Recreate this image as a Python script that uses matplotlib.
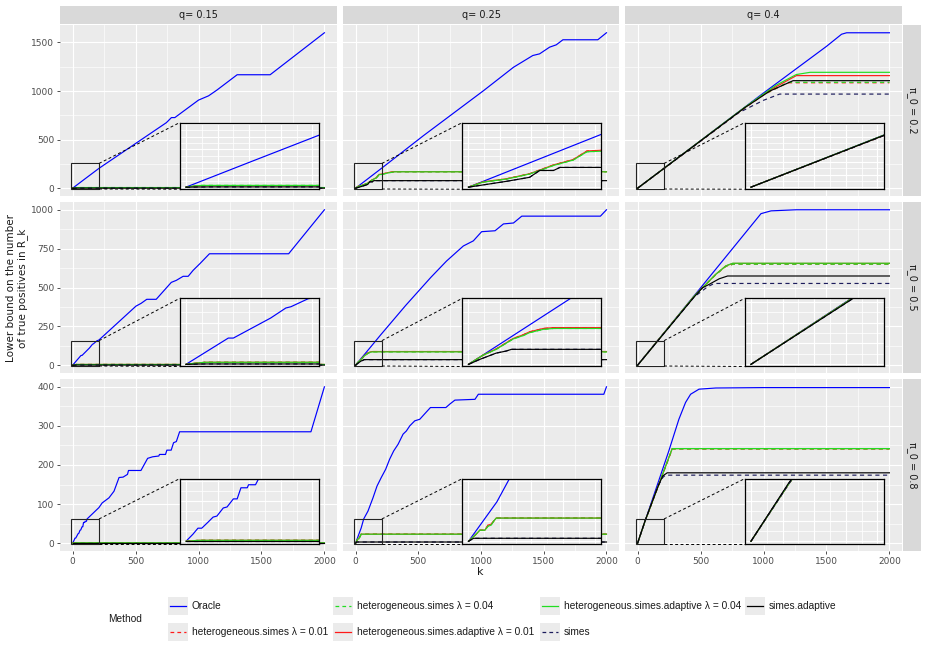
import matplotlib
matplotlib.use("Agg")
import matplotlib.pyplot as plt
from matplotlib.patches import Rectangle

W, H = 927, 649

# methods, in the legend / drawing order
methods = ["oracle", "hs01", "hs04", "hsa01", "hsa04", "simes", "simes_ad"]
method_labels = [
    "Oracle",
    "heterogeneous.simes λ = 0.01",
    "heterogeneous.simes λ = 0.04",
    "heterogeneous.simes.adaptive λ = 0.01",
    "heterogeneous.simes.adaptive λ = 0.04",
    "simes",
    "simes.adaptive",
]
method_colors = ["#0000FF", "#FF1A1A", "#22DD22", "#FF1A1A", "#22DD22", "#1C1C5C", "#000000"]
method_styles = ["-", "--", "--", "-", "-", "--", "-"]

q_labels = ["q= 0.15", "q= 0.25", "q= 0.4"]
pi_labels = ["π_0 = 0.2", "π_0 = 0.5", "π_0 = 0.8"]

# values: method -> (k, lower bound)
q015_pi02 = {
    "oracle": ([0, 100, 210, 500, 745, 785, 812, 1000, 1080, 1146, 1307, 1569, 2000],
               [0, 98, 205, 460, 675, 727, 727, 907, 951, 1010, 1168, 1168, 1600]),
    "hs01": ([0, 10, 25, 2000], [0, 3, 6, 6]),
    "hs04": ([0, 10, 25, 2000], [0, 4, 7, 7]),
    "hsa01": ([0, 10, 25, 2000], [0, 3, 6, 6]),
    "hsa04": ([0, 10, 25, 2000], [0, 4, 7, 7]),
    "simes": ([0, 40, 2000], [0, 1, 1]),
    "simes_ad": ([0, 40, 2000], [0, 1, 1]),
}
q025_pi02 = {
    "oracle": ([0, 210, 540, 1019, 1259, 1413, 1467, 1547, 1600, 1653, 1931, 2000],
               [0, 208, 540, 1003, 1245, 1366, 1383, 1452, 1476, 1528, 1528, 1600]),
    "hs01": ([0, 23, 60, 97, 135, 166, 188, 210, 260, 312, 2000],
             [0, 21, 33, 53, 88, 109, 143, 145, 160, 171, 171]),
    "hs04": ([0, 23, 60, 97, 135, 166, 188, 210, 260, 312, 2000],
             [0, 20, 32, 52, 86, 107, 140, 142, 158, 169, 169]),
    "hsa01": ([0, 23, 60, 97, 135, 166, 188, 210, 260, 312, 2000],
              [0, 21, 33, 53, 88, 109, 143, 146, 161, 171, 171]),
    "hsa04": ([0, 23, 60, 97, 135, 166, 188, 210, 260, 312, 2000],
              [0, 20, 32, 52, 86, 107, 140, 142, 158, 169, 169]),
    "simes": ([0, 60, 97, 113, 135, 145, 2000], [0, 23, 39, 66, 66, 78, 78]),
    "simes_ad": ([0, 60, 97, 113, 135, 145, 2000], [0, 23, 39, 66, 66, 78, 78]),
}
q04_pi02 = {
    "oracle": ([0, 1000, 1500, 1620, 1660, 2000], [0, 980, 1460, 1585, 1600, 1600]),
    "hs01": ([0, 850, 1000, 1190, 2000], [0, 825, 960, 1085, 1085]),
    "hs04": ([0, 850, 1000, 1195, 2000], [0, 828, 965, 1090, 1090]),
    "hsa01": ([0, 850, 1050, 1261, 2000], [0, 830, 1010, 1159, 1159]),
    "hsa04": ([0, 850, 1100, 1260, 1370, 2000], [0, 832, 1060, 1170, 1193, 1193]),
    "simes": ([0, 800, 1000, 1128, 2000], [0, 775, 905, 969, 969]),
    "simes_ad": ([0, 850, 1050, 1235, 2000], [0, 828, 1000, 1107, 1107]),
}
q015_pi05 = {
    "oracle": ([0, 67, 75, 134, 142, 158, 166, 193, 209, 503, 544, 589, 664, 784, 824,
                878, 918, 958, 1012, 1087, 1716, 2000],
               [0, 63, 63, 111, 119, 135, 138, 157, 162, 380, 398, 424, 424, 533, 546,
                572, 572, 611, 654, 717, 717, 1000]),
    "hs01": ([0, 10, 30, 2000], [0, 2, 5, 5]),
    "hs04": ([0, 10, 30, 2000], [0, 2, 5, 5]),
    "hsa01": ([0, 10, 30, 2000], [0, 2, 5, 5]),
    "hsa04": ([0, 10, 30, 2000], [0, 2, 5, 5]),
    "simes": ([0, 30, 2000], [0, 1, 1]),
    "simes_ad": ([0, 30, 2000], [0, 1, 1]),
}
q025_pi05 = {
    "oracle": ([0, 200, 400, 600, 725, 859, 939, 1005, 1112, 1179, 1259, 1325, 1952, 2000],
               [0, 195, 385, 565, 670, 767, 800, 859, 865, 909, 915, 959, 959, 1000]),
    "hs01": ([0, 23, 44, 71, 87, 97, 119, 135, 2000], [0, 22, 37, 62, 71, 78, 86, 88, 88]),
    "hs04": ([0, 23, 44, 71, 87, 97, 119, 135, 2000], [0, 22, 36, 61, 69, 76, 84, 86, 86]),
    "hsa01": ([0, 23, 44, 71, 87, 97, 119, 135, 2000], [0, 22, 37, 62, 71, 78, 86, 88, 88]),
    "hsa04": ([0, 23, 44, 71, 87, 97, 119, 135, 2000], [0, 22, 36, 61, 69, 76, 84, 86, 86]),
    "simes": ([0, 18, 44, 60, 68, 2000], [0, 12, 27, 32, 36, 36]),
    "simes_ad": ([0, 18, 44, 60, 68, 2000], [0, 12, 27, 32, 36, 36]),
}
q04_pi05 = {
    "oracle": ([0, 980, 1060, 1260, 2000], [0, 975, 993, 1000, 1000]),
    "hs01": ([0, 450, 621, 701, 760, 2000], [0, 445, 583, 636, 650, 650]),
    "hs04": ([0, 450, 621, 701, 760, 2000], [0, 445, 583, 636, 650, 650]),
    "hsa01": ([0, 450, 621, 701, 755, 2000], [0, 445, 585, 639, 655, 655]),
    "hsa04": ([0, 450, 621, 701, 755, 2000], [0, 445, 585, 639, 656, 656]),
    "simes": ([0, 450, 555, 608, 2000], [0, 440, 504, 526, 526]),
    "simes_ad": ([0, 450, 515, 568, 648, 715, 2000], [0, 440, 498, 520, 556, 574, 574]),
}
q015_pi08 = {
    "oracle": ([0, 11, 19, 25, 35, 43, 49, 59, 65, 75, 81, 87, 97, 99, 110, 115, 209, 235,
                289, 329, 369, 401, 436, 444, 543, 596, 636, 685, 690, 738, 749, 783, 802,
                824, 850, 1893, 2000],
               [0, 7, 13, 13, 19, 24, 25, 33, 34, 42, 42, 53, 53, 56, 56, 62, 91, 103,
                116, 133, 168, 169, 176, 186, 186, 217, 221, 223, 227, 227, 238, 238, 257,
                260, 285, 285, 400]),
    "hs01": ([0, 20, 2000], [0, 1, 1]),
    "hs04": ([0, 20, 2000], [0, 1, 1]),
    "hsa01": ([0, 20, 2000], [0, 1, 1]),
    "hsa04": ([0, 20, 2000], [0, 1, 1]),
    "simes": ([0, 2000], [0, 0]),
    "simes_ad": ([0, 2000], [0, 0]),
}
q025_pi08 = {
    "oracle": ([0, 45, 65, 99, 139, 171, 205, 240, 272, 304, 339, 379, 405, 432, 472, 512,
                560, 597, 720, 752, 792, 952, 979, 1979, 2000],
               [0, 39, 62, 82, 116, 146, 168, 189, 215, 236, 253, 279, 287, 300, 313, 317,
                334, 347, 347, 356, 366, 368, 381, 381, 400]),
    "hs01": ([0, 12, 18, 26, 31, 36, 40, 44, 2000], [0, 7, 11, 11, 16, 17, 20, 23, 23]),
    "hs04": ([0, 12, 18, 26, 31, 36, 40, 44, 2000], [0, 7, 11, 11, 15, 16, 20, 23, 23]),
    "hsa01": ([0, 12, 18, 26, 31, 36, 40, 44, 2000], [0, 7, 11, 11, 16, 17, 20, 23, 23]),
    "hsa04": ([0, 12, 18, 26, 31, 36, 40, 44, 2000], [0, 7, 11, 11, 15, 16, 20, 23, 23]),
    "simes": ([0, 8, 2000], [0, 3, 3]),
    "simes_ad": ([0, 8, 2000], [0, 3, 3]),
}
q04_pi08 = {
    "oracle": ([0, 248, 328, 381, 421, 488, 621, 995, 2000], [0, 236, 317, 360, 381, 394, 397, 398, 398]),
    "hs01": ([0, 60, 275, 2000], [0, 57, 241, 241]),
    "hs04": ([0, 60, 275, 2000], [0, 57, 241, 241]),
    "hsa01": ([0, 60, 275, 2000], [0, 57, 242, 242]),
    "hsa04": ([0, 60, 275, 2000], [0, 57, 242, 242]),
    "simes": ([0, 60, 160, 200, 221, 2000], [0, 57, 145, 168, 174, 174]),
    "simes_ad": ([0, 60, 168, 200, 235, 2000], [0, 58, 150, 172, 180, 180]),
}

panels = [
    [q015_pi02, q025_pi02, q04_pi02],
    [q015_pi05, q025_pi05, q04_pi05],
    [q015_pi08, q025_pi08, q04_pi08],
]

row_ymax = [1600, 1000, 400]
row_yticks = [[0, 500, 1000, 1500], [0, 250, 500, 750, 1000], [0, 100, 200, 300, 400]]
row_yminor = [[250, 750, 1250], [125, 375, 625, 875], [50, 150, 250, 350]]
x_ticks = [0, 500, 1000, 1500, 2000]
x_minor = [250, 750, 1250, 1750]

# magnified region and inset placement per row (data coords)
zoom_x = (-10, 210)
box_y = [(-8, 255), (-5, 158), (-3, 62)]
inset_x = (850, 1955)
inset_y = [(-10, 675), (-8, 430), (-3, 165)]
inset_yticks = [[0, 50, 100, 150, 200, 250], [0, 50, 100, 150], [0, 20, 40, 60]]
inset_yminor = [[25, 75, 125, 175, 225], [25, 75, 125], [10, 30, 50]]

col_px = [(60, 337), (343, 619), (625, 902)]
row_px = [(25, 196), (202, 373), (379, 551)]

BG = "#EBEBEB"
STRIP = "#D9D9D9"
LEG_FONT = ["Liberation Sans", "DejaVu Sans"]


def rect(l, t, r, b):
    return [l / W, 1 - b / H, (r - l) / W, (b - t) / H]


def draw_lines(ax, data):
    for m, c, ls in zip(methods, method_colors, method_styles):
        k, v = data[m]
        ax.plot(k, v, color=c, ls=ls, lw=0.85, dashes=(3.5, 3) if ls == "--" else (None, None))


def style_grid(ax, xt, xm, yt, ym):
    ax.set_facecolor(BG)
    for s in ax.spines.values():
        s.set_visible(False)
    ax.set_xticks(xt)
    ax.set_xticks(xm, minor=True)
    ax.set_yticks(yt)
    ax.set_yticks(ym, minor=True)
    ax.grid(True, which="major", color="white", lw=0.85)
    ax.grid(True, which="minor", color="white", lw=0.45)
    ax.set_axisbelow(True)


fig = plt.figure(figsize=(W / 100, H / 100), dpi=100)

for r in range(3):
    for c in range(3):
        l, rr = col_px[c]
        t, b = row_px[r]
        ax = fig.add_axes(rect(l, t, rr, b))
        ymax = row_ymax[r]
        ax.set_xlim(-100, 2100)
        ax.set_ylim(-0.05 * ymax, 1.05 * ymax)
        style_grid(ax, x_ticks, x_minor, row_yticks[r], row_yminor[r])
        ax.tick_params(which="minor", length=0)
        ax.tick_params(which="major", length=2.5, width=0.6, color="#333333",
                       labelsize=6.5, labelcolor="#4D4D4D", pad=1.5)
        if c != 0:
            ax.tick_params(axis="y", length=0, labelleft=False)
        if r != 2:
            ax.tick_params(axis="x", length=0, labelbottom=False)
        draw_lines(ax, panels[r][c])

        # magnifier box, connectors and inset
        by0, by1 = box_y[r]
        iy0, iy1 = inset_y[r]
        ax.add_patch(Rectangle((zoom_x[0], by0), zoom_x[1] - zoom_x[0], by1 - by0,
                               fill=False, ec="#222222", lw=0.8, zorder=4))
        ax.plot([zoom_x[1], inset_x[0]], [by1, iy1], color="black", lw=0.7,
                dashes=(3, 2.5), zorder=4)
        ax.plot([zoom_x[1], inset_x[0]], [by0, iy0], color="black", lw=0.7,
                dashes=(3, 2.5), zorder=4)
        ins = ax.inset_axes([inset_x[0], iy0, inset_x[1] - inset_x[0], iy1 - iy0],
                            transform=ax.transData)
        ins.set_xlim(*zoom_x)
        ins.set_ylim(by0, by1)
        style_grid(ins, [0, 50, 100, 150, 200], [25, 75, 125, 175],
                   inset_yticks[r], inset_yminor[r])
        ins.grid(True, which="minor", color="white", lw=0.55)
        ins.tick_params(which="both", length=0, labelleft=False, labelbottom=False)
        for s in ins.spines.values():
            s.set_visible(True)
            s.set_color("black")
            s.set_linewidth(0.9)
        draw_lines(ins, panels[r][c])

        if r == 0:
            sax = fig.add_axes(rect(l, 6, rr, 24))
            sax.set_facecolor(STRIP)
            sax.set_xticks([])
            sax.set_yticks([])
            for s in sax.spines.values():
                s.set_visible(False)
            sax.text(0.5, 0.5, q_labels[c], ha="center", va="center", fontsize=7,
                     color="#1A1A1A", transform=sax.transAxes)
    sax = fig.add_axes(rect(903, row_px[r][0], 921, row_px[r][1]))
    sax.set_facecolor(STRIP)
    sax.set_xticks([])
    sax.set_yticks([])
    for s in sax.spines.values():
        s.set_visible(False)
    sax.text(0.5, 0.5, pi_labels[r], ha="center", va="center", fontsize=7,
             color="#1A1A1A", rotation=-90, transform=sax.transAxes)

# overlay in pixel coords for titles and legend
ov = fig.add_axes([0, 0, 1, 1])
ov.set_xlim(0, W)
ov.set_ylim(H, 0)
ov.axis("off")
ov.patch.set_alpha(0)

ov.text(17, 288, "Lower bound on the number\nof true positives in R_k", rotation=90,
        ha="center", va="center", fontsize=7.5, color="#1A1A1A", linespacing=1.1)
ov.text(480, 572, "k", ha="center", va="center", fontsize=8, color="#1A1A1A")

ov.text(108, 619, "Method", ha="left", va="center", fontsize=7.3, color="#1A1A1A",
        family=LEG_FONT)
key_x = [168, 333, 540, 745]
key_y = [606, 632]
for i, (lab, col, ls) in enumerate(zip(method_labels, method_colors, method_styles)):
    kx = key_x[i // 2]
    ky = key_y[i % 2]
    ov.add_patch(Rectangle((kx, ky - 9), 20, 18, fc=BG, ec="none"))
    ov.plot([kx + 2, kx + 18], [ky, ky], color=col, lw=0.9,
            dashes=(3, 2.5) if ls == "--" else (None, None))
    ov.text(kx + 24, ky, lab, ha="left", va="center", fontsize=7.3, color="#1A1A1A",
            family=LEG_FONT)

fig.savefig("out.png", dpi=100)
